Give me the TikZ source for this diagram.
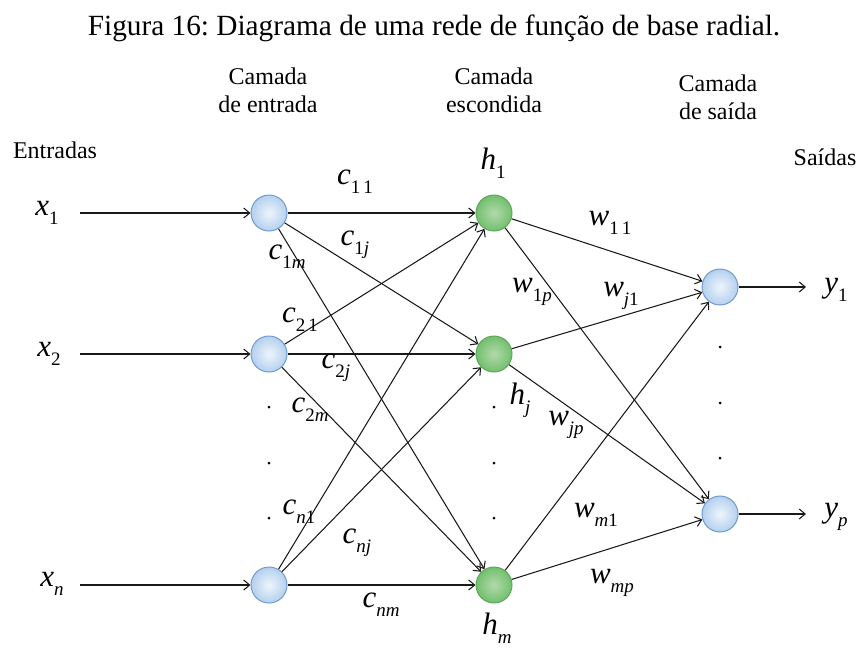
\documentclass[tikz,border=0pt]{standalone}
\usepackage{fontspec}
\setmainfont{Liberation Serif}
\usetikzlibrary{arrows.meta}
\frenchspacing
\definecolor{bluedraw}{HTML}{6F9BCF}
\definecolor{blueouter}{HTML}{B4D0EE}
\definecolor{blueinner}{HTML}{EEF5FC}
\definecolor{greendraw}{HTML}{5DA65A}
\definecolor{greenouter}{HTML}{72BF6E}
\definecolor{greeninner}{HTML}{B2DAAA}
\newcommand\sbx[1]{\raisebox{-0.28em}{\fontsize{19}{19}\selectfont\upshape #1}}
\tikzset{
  innode/.style={circle, minimum size=36pt, inner sep=0pt, draw=bluedraw, line width=1pt, inner color=blueinner, outer color=blueouter},
  hidnode/.style={circle, minimum size=36pt, inner sep=0pt, draw=greendraw, line width=1pt, inner color=greeninner, outer color=greenouter},
  conn/.style={-{Straight Barb[length=6pt,width=10pt]}, line width=1.05pt, draw=black!90},
  lab/.style={font=\fontsize{24}{28}\selectfont, align=center, inner sep=0pt},
  ml/.style={font=\fontsize{31}{32}\selectfont\itshape, inner sep=0pt},
  dotmark/.style={fill=black, circle, inner sep=0pt, minimum size=3pt},
}
\begin{document}
\begin{tikzpicture}[x=1pt,y=-1pt]
\useasboundingbox (0,0) rectangle (861,649);
% title and layer labels
\node[font=\fontsize{29.3}{32}\selectfont, inner sep=0pt] (title) at (434,28) {Figura 16: Diagrama de uma rede de função de base radial.};
\node[lab] (Lin) at (268,90) {Camada\\de entrada};
\node[lab] (Lhid) at (494,90) {Camada\\escondida};
\node[lab] (Lout) at (718,97) {Camada\\de saída};
\node[lab] (Lent) at (55,150) {Entradas};
\node[lab] (Lsai) at (825,157) {Saídas};
% nodes
\node[innode] (i1) at (269,213) {};
\node[innode] (i2) at (269,354) {};
\node[innode] (in) at (269,585) {};
\node[hidnode] (h1) at (494,213) {};
\node[hidnode] (hj) at (494,354) {};
\node[hidnode] (hm) at (494,585) {};
\node[innode] (o1) at (720,287) {};
\node[innode] (op) at (720,514) {};
% free ends
\coordinate (s1) at (80,213);
\coordinate (s2) at (80,354);
\coordinate (sn) at (80,585);
\coordinate (t1) at (806,287);
\coordinate (tp) at (806,514);
\node[ml] (x1) at (47,213) {x\sbx{1}};
\node[ml] (x2) at (49,354) {x\sbx{2}};
\node[ml] (xn) at (52,584) {x\sbx{\itshape n}};
\node[ml] (y1) at (836,290) {y\sbx{1}};
\node[ml] (yp) at (836,517) {y\sbx{\itshape p}};
% connectors
\foreach \s/\t in {s1/i1, s2/i2, sn/in, o1/t1, op/tp}
  \draw[conn] (\s) -- (\t);
\foreach \a in {i1,i2,in}
  \foreach \b in {h1,hj,hm}
    \draw[conn] (\a) -- (\b);
\foreach \a in {h1,hj,hm}
  \foreach \b in {o1,op}
    \draw[conn] (\a) -- (\b);
% dots
\foreach \x/\y [count=\k] in {269/407, 269/463, 269/518, 494/407, 494/463, 494/518, 720/347, 720/403, 720/458}
  \node[dotmark] (d\k) at (\x,\y) {};
% hidden labels
\node[ml] (lh1) at (493,163) {h\sbx{1}};
\node[ml] (lhj) at (520,400) {h\sbx{\itshape j}};
\node[ml] (lhm) at (497,628) {h\sbx{\itshape m}};
% c labels
\node[ml] (c11) at (355,182) {c\sbx{1\,1}};
\node[ml] (c1j) at (355,245) {c\sbx{1\itshape j}};
\node[ml] (c1m) at (287,257) {c\sbx{1\itshape m}};
\node[ml] (c21) at (300,320) {c\sbx{2\,1}};
\node[ml] (c2j) at (336,368) {c\sbx{2\itshape j}};
\node[ml] (c2m) at (310,410) {c\sbx{2\itshape m}};
\node[ml] (cn1) at (299,512) {c\sbx{\itshape n\upshape 1}};
\node[ml] (cnj) at (357,543) {c\sbx{\itshape nj}};
\node[ml] (cnm) at (381,605) {c\sbx{\itshape nm}};
% w labels
\node[ml] (w11) at (610,223) {w\sbx{1\,1}};
\node[ml] (w1p) at (532,292) {w\sbx{1\itshape p}};
\node[ml] (wj1) at (621,296) {w\sbx{\itshape j\upshape 1}};
\node[ml] (wjp) at (566,425) {w\sbx{\itshape jp}};
\node[ml] (wm1) at (596,515) {w\sbx{\itshape m\upshape 1}};
\node[ml] (wmp) at (612,583) {w\sbx{\itshape mp}};
\end{tikzpicture}
\end{document}
